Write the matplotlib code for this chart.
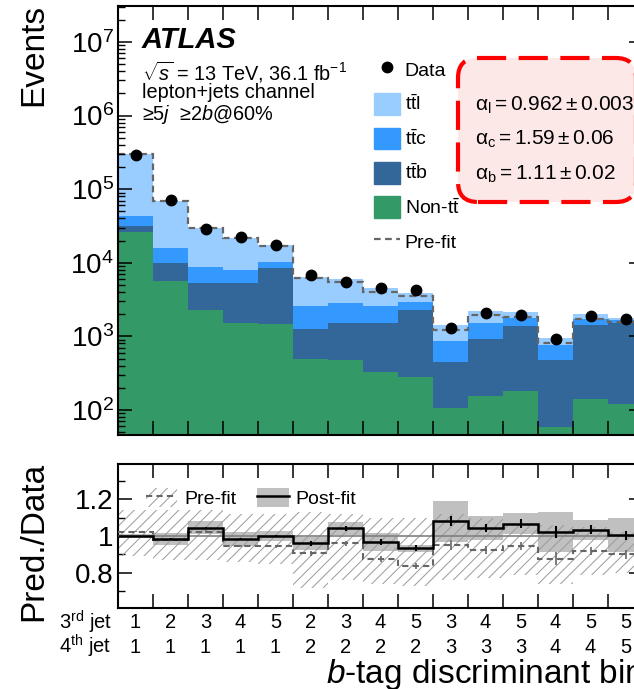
import numpy as np
import matplotlib
matplotlib.use("Agg")
import matplotlib.pyplot as plt
import matplotlib.transforms as mtransforms
from matplotlib.patches import Patch, FancyBboxPatch
from matplotlib.lines import Line2D
from matplotlib.ticker import MultipleLocator, NullLocator, FixedLocator

plt.rcParams['font.family'] = ['Liberation Sans', 'DejaVu Sans']
plt.rcParams['mathtext.fontset'] = 'custom'
plt.rcParams['mathtext.rm'] = 'Liberation Sans'
plt.rcParams['mathtext.it'] = 'Liberation Sans:italic'
plt.rcParams['mathtext.bf'] = 'Liberation Sans:bold'
plt.rcParams['hatch.linewidth'] = 0.7

# b-tag bins (3rd jet / 4th jet)
jet3 = [1, 2, 3, 4, 5, 2, 3, 4, 5, 3, 4, 5, 4, 5, 5]
jet4 = [1, 1, 1, 1, 1, 2, 2, 2, 2, 3, 3, 3, 4, 4, 5]

# post-fit event yields per component
non_tt = [26000, 5600, 2300, 1500, 1450, 490, 480, 330, 280, 105, 155, 180, 58, 140, 120]
ttb = [6000, 4400, 3000, 3800, 7050, 770, 1060, 1210, 2020, 345, 765, 1220, 422, 1300, 1380]
ttc = [11000, 5800, 3500, 2800, 1800, 1310, 1260, 1030, 600, 420, 580, 380, 280, 300, 150]
ttl = [255000, 53200, 21200, 13900, 7400, 3930, 3160, 1930, 1000, 560, 740, 370, 180, 260, 130]

data = [290000, 71000, 29000, 22500, 17500, 6800, 5500, 4600, 4200, 1290, 2100, 1960, 920, 1900, 1740]
prefit = [298000, 69000, 30000, 21500, 17000, 6200, 5400, 4000, 3500, 1230, 1960, 1850, 820, 1740, 1560]

# ratio panel
post_ratio = [1.0, 0.984, 1.045, 0.984, 1.0, 0.96, 1.042, 0.967, 0.933, 1.08, 1.042, 1.067, 1.022, 1.034, 1.005]
post_unc = [0.012, 0.031, 0.034, 0.04, 0.025, 0.036, 0.035, 0.047, 0.02, 0.11, 0.065, 0.055, 0.11, 0.053, 0.093]
pre_ratio = [1.024, 0.98, 1.024, 0.945, 0.945, 0.906, 0.96, 0.876, 0.836, 0.951, 0.924, 0.945, 0.878, 0.92, 0.90]
pre_hi = [1.14, 1.14, 1.14, 1.12, 1.12, 1.13, 1.12, 1.10, 1.10, 1.12, 1.10, 1.07, 1.06, 1.05, 1.02]
pre_lo = [0.89, 0.87, 0.87, 0.86, 0.85, 0.72, 0.76, 0.74, 0.73, 0.76, 0.77, 0.79, 0.74, 0.79, 0.80]
stat_err = [0.002, 0.004, 0.006, 0.007, 0.008, 0.012, 0.014, 0.015, 0.016, 0.028, 0.022, 0.023, 0.033, 0.023, 0.024]

# fitted normalisation factors
alpha_names = ['l', 'c', 'b']
alpha_vals = ['0.962', '1.59', '1.11']
alpha_errs = ['0.003', '0.06', '0.02']

colors = ['#339966', '#336699', '#3399ff', '#99ccff']
hatch_col = '#9a9a9a'

W, H = 634, 689
fig = plt.figure(figsize=(W / 100, H / 100), dpi=100)
ax1 = fig.add_axes([118 / W, 1 - 435 / H, 525 / W, 429 / H])
ax2 = fig.add_axes([118 / W, 1 - 608 / H, 525 / W, 144 / H])

edges = np.arange(len(jet3) + 1)
centers = edges[:-1] + 0.5

# ---- upper panel: stacked histogram
stack = np.cumsum(np.vstack([non_tt, ttb, ttc, ttl]), axis=0)
for i in range(len(stack)):
    base = stack[i - 1] if i > 0 else np.ones(len(jet3))
    ax1.stairs(stack[i], edges, baseline=base, fill=True, color=colors[i], lw=0)
ax1.stairs(prefit, edges, baseline=None, color='#666666', ls=(0, (3, 2)), lw=1.6)
ax1.errorbar(centers, data, yerr=np.sqrt(data), fmt='o', color='k', ms=7.5,
             elinewidth=1.5, capsize=0, zorder=5)

ax1.set_yscale('log')
ax1.set_ylim(45.7, 3.08e7)
ax1.set_xlim(0, len(jet3))
ax1.xaxis.set_major_locator(FixedLocator(edges))
ax1.xaxis.set_minor_locator(NullLocator())
ax1.tick_params(axis='x', labelbottom=False)

# ---- lower panel: ratio
ax2.bar(centers, 2 * np.array(post_unc), bottom=np.array(post_ratio) - post_unc, width=1,
        color='#c0c0c0', lw=0, zorder=1)
ax2.bar(centers, np.array(pre_hi) - pre_lo, bottom=pre_lo, width=1, fill=False,
        hatch='///', edgecolor=hatch_col, lw=0, zorder=2)
ax2.axhline(1, color='#808080', lw=1.2, zorder=3)
ax2.stairs(pre_ratio, edges, baseline=None, color='#666666', ls=(0, (3, 2)), lw=1.5, zorder=4)
ax2.errorbar(centers, pre_ratio, yerr=stat_err, fmt='none', ecolor='#666666', elinewidth=1.2, zorder=4)
ax2.stairs(post_ratio, edges, baseline=None, color='k', lw=1.8, zorder=5)
ax2.errorbar(centers, post_ratio, yerr=stat_err, fmt='none', ecolor='k', elinewidth=1.5, zorder=5)

ax2.set_xlim(0, len(jet3))
ax2.set_ylim(0.61, 1.39)
ax2.xaxis.set_major_locator(FixedLocator(edges))
ax2.xaxis.set_minor_locator(NullLocator())
ax2.tick_params(axis='x', labelbottom=False)
ax2.set_yticks([0.8, 1, 1.2], ['0.8', '1', '1.2'])
ax2.yaxis.set_minor_locator(MultipleLocator(0.1))

for ax in (ax1, ax2):
    ax.tick_params(which='both', direction='in', top=True, right=True, labelsize=20, pad=3)
    ax.tick_params(which='major', length=10, width=1.1)
    ax.tick_params(which='minor', length=5, width=1.0)
    for s in ax.spines.values():
        s.set_linewidth(1.5)

# bin labels
tr = mtransforms.blended_transform_factory(ax2.transData, ax2.transAxes)
for i in range(len(jet3)):
    ax2.text(centers[i], -0.104, str(jet3[i]), transform=tr, ha='center', va='center', fontsize=14.5)
    ax2.text(centers[i], -0.271, str(jet4[i]), transform=tr, ha='center', va='center', fontsize=14.5)
ax2.text(-0.012, -0.098, r'3$^{\mathrm{rd}}$ jet', transform=ax2.transAxes, ha='right', va='center', fontsize=14.5)
ax2.text(-0.012, -0.265, r'4$^{\mathrm{th}}$ jet', transform=ax2.transAxes, ha='right', va='center', fontsize=14.5)
ax2.text(1.0, -0.521, r'$b$-tag discriminant bin', transform=ax2.transAxes, ha='right',
         va='baseline', fontsize=24)

fig.text(33.5 / W, 1 - 4 / H, 'Events', rotation=90, ha='center', va='top', fontsize=24)
fig.text(33.5 / W, 1 - 462 / H, 'Pred./Data', rotation=90, ha='center', va='top', fontsize=24)

# labels
fig.text(142 / W, 1 - 40 / H, 'ATLAS', fontsize=21, weight='bold', style='italic', va='center')
fig.text(142 / W, 1 - 72 / H, r'$\sqrt{s}$ = 13 TeV, 36.1 fb$^{-1}$', fontsize=14.3, va='center')
fig.text(142 / W, 1 - 93 / H, 'lepton+jets channel', fontsize=14.3, va='center')
fig.text(142 / W, 1 - 115 / H, r'≥5$j$  ≥2$b$@60%', fontsize=14.3, va='center')

# legend upper panel
handles = [Line2D([], [], marker='o', color='k', ls='none', ms=7.5)]
handles += [Patch(color=c) for c in colors[::-1]]
handles += [Line2D([], [], color='#666666', ls=(0, (3, 2)), lw=1.6)]
labels = ['Data', r'$\mathrm{t\bar{t}l}$', r'$\mathrm{t\bar{t}c}$', r'$\mathrm{t\bar{t}b}$',
          r'Non-$\mathrm{t\bar{t}}$', 'Pre-fit']
ax1.legend(handles, labels, loc='upper left', bbox_to_anchor=(0.4876, 0.877), frameon=False,
           fontsize=14, handlelength=1.33, handleheight=1.33, handletextpad=0.25,
           labelspacing=0.66, borderpad=0, borderaxespad=0)

# fitted normalisation box
box = FancyBboxPatch((4.58, (H - 202) / 100), 1.78, 1.44,
                     boxstyle='round,pad=0,rounding_size=0.2', transform=fig.dpi_scale_trans,
                     fc='#fde8e8', ec='red', lw=3, ls=(0, (7, 3)), zorder=3)
fig.add_artist(box)
for k, yy in enumerate([105, 139, 174]):
    txt = r'$\mathrm{\alpha}_{\mathrm{%s}} = %s \pm %s$' % (alpha_names[k], alpha_vals[k], alpha_errs[k])
    fig.text(475 / W, 1 - yy / H, txt, fontsize=15, va='center', zorder=4)

# legend ratio panel
h_pre = (Patch(fill=False, hatch='///', edgecolor=hatch_col, lw=0),
         Line2D([], [], color='#666666', ls=(0, (3, 2)), lw=1.5))
h_post = (Patch(color='#c0c0c0', lw=0), Line2D([], [], color='k', lw=1.8))
ax2.legend([h_pre, h_post], ['Pre-fit', 'Post-fit'], ncol=2, loc='upper left',
           bbox_to_anchor=(0.0533, 0.832), frameon=False, fontsize=14, handlelength=1.6,
           handleheight=1.1, handletextpad=0.35, columnspacing=1.1, borderpad=0, borderaxespad=0)

fig.savefig('out.png', dpi=100)
